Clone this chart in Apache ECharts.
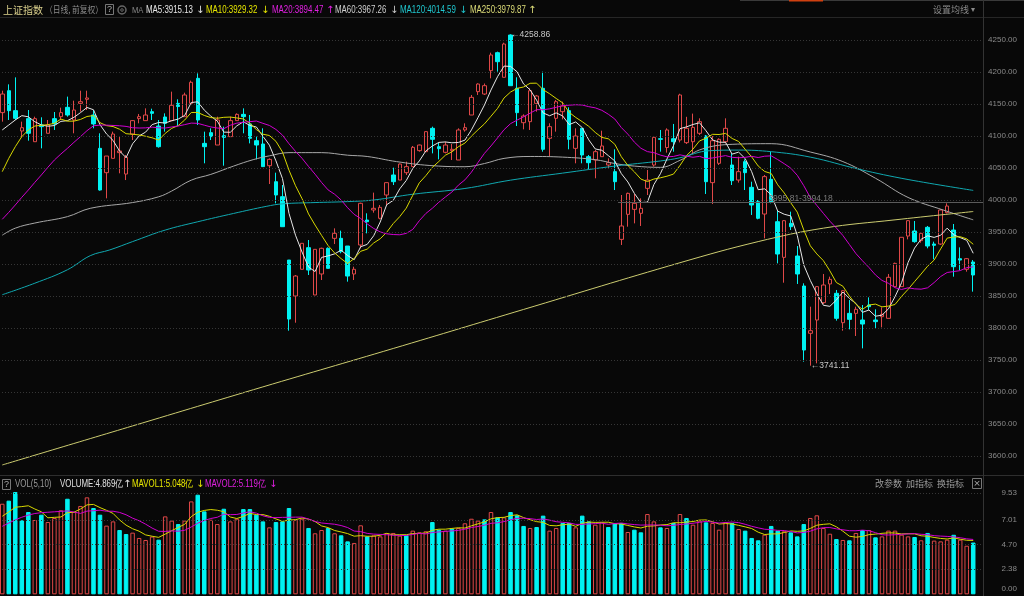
<!DOCTYPE html>
<html><head><meta charset="utf-8">
<script src="https://cdn.jsdelivr.net/npm/echarts@6/dist/echarts.min.js"></script>
<style>html,body{margin:0;padding:0;background:#080808;}#c{width:1024px;height:596px;}</style>
</head><body><div id="c"></div>
<script>
// ---------- data ----------
const opens = [4136.5,4170.8,4139.6,4107.8,4127.1,4091.1,4117.2,4104.2,4127.1,4130.2,
4144.8,4125.0,4151.0,4157.3,4132.8,4080.7,4042.7,4065.1,4074.0,4040.6,
4103.1,4127.1,4124.0,4138.0,4115.6,4129.7,4124.0,4151.0,4130.2,4151.0,
4190.1,4088.5,4105.2,4085.9,4100.5,4099.0,4124.0,4133.8,4118.8,4092.7,
4087.5,4053.6,4028.6,4005.2,3906.2,3850.0,3891.7,3925.5,3851.6,3884.4,
3924.5,3940.1,3940.1,3928.1,3884.4,3929.7,3968.7,3984.4,3971.4,4007.8,
4039.1,4031.2,4042.7,4052.1,4077.1,4075.5,4112.0,4083.3,4074.5,4077.1,
4062.5,4109.4,4132.8,4169.3,4165.6,4202.1,4230.2,4191.7,4257.8,4174.5,
4120.8,4122.4,4151.0,4174.5,4096.4,4127.6,4138.0,4139.6,4080.7,4112.0,
4067.7,4062.5,4067.7,4054.7,4044.3,3938.5,3977.6,3985.4,3979.2,4018.2,
4054.7,4095.8,4082.0,4095.8,4093.7,4089.6,4091.1,4104.2,4100.0,4027.1,
4057.3,4091.1,4054.7,4031.2,4059.9,4019.8,3997.4,3978.1,4032.3,3966.1,
3910.4,3963.5,3912.5,3865.6,3791.7,3812.5,3839.6,3868.8,3854.2,3808.3,
3822.9,3822.9,3812.5,3835.9,3812.5,3817.7,3815.1,3864.6,3864.6,3943.7,
3951.6,3936.5,3957.3,3931.2,3931.2,3980.2,3953.1,3908.3,3891.7,3903.1];
const closes = [4165.6,4139.6,4127.6,4113.0,4104.2,4127.1,4114.6,4117.2,4118.8,4136.5,
4132.8,4140.6,4153.6,4159.4,4118.8,4015.6,4068.7,4103.1,4076.6,4066.7,
4124.0,4130.2,4132.8,4135.4,4083.3,4119.8,4147.9,4146.0,4164.1,4183.9,
4125.0,4083.3,4099.0,4125.0,4097.9,4124.0,4133.8,4130.2,4096.4,4085.9,
4052.1,4063.5,4007.8,3958.3,3814.0,3881.2,3932.3,3890.6,3922.9,3924.5,
3893.2,3947.9,3919.3,3881.2,3891.7,3994.8,3966.1,3987.0,3988.5,4027.1,
4028.6,4056.2,4052.1,4082.3,4085.9,4106.8,4094.8,4080.2,4085.9,4079.2,
4109.4,4113.0,4160.4,4181.2,4178.6,4226.6,4216.1,4243.7,4178.6,4136.5,
4131.2,4170.8,4162.5,4079.2,4114.6,4153.6,4146.9,4094.8,4100.0,4070.3,
4058.3,4075.5,4084.4,4058.3,4028.6,3959.4,4010.4,3994.8,3987.0,4031.2,
4097.9,4094.8,4109.4,4091.1,4164.1,4112.0,4113.5,4122.4,4028.6,4092.7,
4094.8,4112.0,4030.2,4044.3,4042.7,3992.2,3971.4,4036.5,3997.4,3915.6,
3967.7,3958.3,3884.4,3765.6,3795.8,3864.6,3867.2,3876.0,3815.1,3858.3,
3813.5,3829.2,3806.2,3833.3,3809.9,3821.4,3879.2,3901.0,3941.7,3967.7,
3934.9,3947.9,3928.1,3929.2,3984.4,3990.6,3895.8,3906.2,3908.3,3882.8];
const lows = [4122.4,4125.0,4125.0,4097.9,4092.7,4091.1,4080.7,4104.2,4109.4,4125.0,
4130.2,4104.2,4138.0,4140.6,4112.0,4014.6,4002.6,4065.1,4041.7,4031.2,
4093.7,4119.8,4124.0,4125.0,4081.8,4106.8,4124.0,4115.6,4130.2,4151.0,
4117.2,4057.3,4093.7,4085.9,4053.6,4099.0,4124.0,4104.2,4088.5,4063.5,
4052.1,4025.0,3994.8,3958.3,3795.8,3808.3,3891.7,3882.8,3851.6,3875.0,
3893.0,3931.2,3916.7,3872.4,3875.0,3924.5,3947.9,3980.2,3969.8,3992.2,
4023.4,4031.2,4039.1,4052.1,4075.5,4075.5,4072.9,4063.5,4072.9,4062.5,
4062.5,4106.8,4132.8,4164.1,4164.1,4190.1,4200.5,4191.7,4178.6,4115.6,
4110.4,4109.4,4138.0,4075.5,4068.7,4106.8,4126.0,4079.2,4057.3,4057.3,
4047.9,4033.9,4067.7,4049.5,4015.6,3929.7,3958.3,3963.5,3959.4,4007.8,
4052.1,4075.5,4074.0,4075.5,4090.0,4087.5,4072.9,4101.6,4009.4,3993.7,
4054.7,4088.5,4023.4,4027.1,4015.6,3976.6,3969.8,3940.1,3994.8,3901.0,
3870.8,3953.1,3868.8,3747.4,3741.11,3744.8,3837.5,3853.1,3811.5,3795.8,
3797.9,3787.5,3768.2,3828.1,3799.5,3801.0,3815.1,3864.6,3864.6,3938.5,
3933.3,3933.3,3924.5,3907.3,3929.7,3979.2,3880.2,3890.6,3888.0,3856.8];
const highs = [4170.8,4180.7,4191.6,4122.4,4140.6,4130.2,4129.2,4125.0,4137.5,4144.3,
4161.5,4155.2,4170.8,4170.8,4140.6,4104.2,4068.7,4106.8,4099.0,4070.3,
4125.0,4134.4,4143.2,4142.7,4125.0,4135.4,4169.3,4157.3,4167.7,4186.5,
4197.9,4106.8,4112.0,4130.2,4114.6,4130.2,4135.4,4143.2,4132.8,4099.0,
4112.0,4065.1,4042.7,4023.4,3906.2,3882.8,3932.3,3937.5,3922.9,3925.5,
3926.0,3955.7,3952.1,3928.1,3895.8,3995.8,3979.2,4011.5,3992.2,4027.1,
4050.5,4057.0,4059.9,4084.4,4086.5,4106.8,4114.6,4089.6,4091.1,4087.5,
4112.0,4119.8,4164.1,4182.3,4182.0,4230.2,4231.8,4245.8,4258.86,4191.7,
4133.8,4174.5,4164.1,4200.5,4119.8,4156.2,4153.6,4144.8,4112.0,4112.0,
4070.3,4078.1,4108.3,4065.1,4079.2,4007.8,4011.5,4009.4,4002.6,4046.9,
4099.0,4109.4,4112.0,4118.8,4166.0,4130.0,4135.0,4127.6,4101.6,4100.0,
4096.4,4127.6,4072.9,4067.7,4063.5,4028.6,4000.0,4039.1,4075.5,3983.3,
3968.7,3981.8,3928.1,3869.8,3833.3,3865.6,3884.4,3880.2,3859.4,3859.4,
3843.7,3833.3,3835.9,3847.9,3829.2,3832.3,3884.4,3902.1,3941.7,3968.7,
3967.2,3948.5,3959.4,3934.9,3985.4,3994.8,3962.5,3926.0,3909.4,3906.2];
// volume (亿)
const volumes = [8.52,8.81,9.62,6.96,7.74,6.99,7.49,6.80,7.18,7.90,
8.99,7.74,8.31,9.12,8.12,7.49,6.46,6.86,6.05,5.67,
5.80,5.30,5.11,5.43,5.14,7.33,6.93,6.61,6.93,8.74,
9.37,7.80,7.02,6.61,8.05,6.86,7.11,8.02,8.02,7.49,
6.86,6.30,6.80,6.86,8.12,7.02,7.11,6.24,5.74,6.05,
6.24,5.74,5.55,4.98,4.83,6.49,5.45,5.55,5.45,5.74,
5.77,5.52,5.55,5.99,5.83,5.93,6.80,6.08,5.99,6.18,
6.24,6.68,7.11,6.93,7.05,7.74,7.24,7.24,7.74,7.43,
6.43,6.24,6.33,7.40,5.99,6.24,6.71,6.71,6.30,7.40,
6.86,6.55,6.77,6.33,6.71,6.71,5.86,6.08,5.83,7.55,
6.86,6.30,6.24,6.71,7.55,7.18,6.55,6.93,6.77,6.71,
6.08,6.80,6.71,6.14,5.99,5.30,5.08,5.61,6.43,5.99,
5.93,5.83,5.45,6.61,7.18,7.43,6.24,5.70,5.20,5.11,
5.08,5.77,6.05,6.05,5.36,5.45,5.99,5.99,5.61,5.45,
5.39,5.08,5.77,5.05,4.98,5.14,5.60,5.14,4.57,4.869];
// moving-average values before enough candles are on screen
const ma5Head  = [4109.4,4117.2,4125.0,4131.8];
const ma10Head = [4044.3,4065.1,4083.3,4099.0,4109.4,4115.6,4116.7,4117.7,4119.8];
const ma20Head = [3969.8,3980.7,3992.2,4004.2,4015.6,4027.6,4039.1,4051.1,4062.5,4071.9,
                  4080.7,4090.1,4099.0,4108.3,4116.0,4117.0,4117.0,4116.5,4116.0];
const mavol1Head = [7.34,7.75,8.19,8.25];
const mavol2Head = [6.40,6.70,7.00,7.25,7.45,7.60,7.68,7.72,7.76];
// long moving averages: [candle index, value]
const ma60Pts  = [[0,3945],[2,3956],[5,3964],[10,3974],[13.5,3987],[20,3996],[24,4005],[26,4014],[29,4031],[32,4040],
  [35.5,4053],[38.5,4063],[41,4069],[44,4074],[49,4074],[53,4070],[56,4068],[60.5,4060],[65.5,4054],[71,4052],
  [74,4057],[77,4065],[81,4068],[86,4067],[91,4063],[94,4057],[97,4053],[101,4051],[104,4062],[107.5,4080],
  [112,4087],[118,4088],[124,4075],[129,4060],[134,4034],[139,4004],[144.5,3984],[149,3969]];
const ma120Pts = [[0,3852],[5,3870],[10,3891],[13.5,3913],[16.5,3922],[20,3935],[25,3953],[30,3966],[35.5,3979],[40.5,3990],
  [43,3994],[48,3996],[53,3997.5],[57,4000],[63,4009],[71,4018],[78,4031],[86,4042],[94,4053],[101,4061],
  [104,4066],[108.5,4077],[113,4078],[118,4075.5],[124,4067],[131.5,4048],[139,4032],[149,4015]];
const ma250Pts = [[0,3586],[20,3647],[40,3708],[60,3768],[80,3829],[104,3902],[116,3935],[126,3956],[137,3969],[149,3982]];
const priceTicks = [3600,3650,3700,3750,3800,3850,3900,3950,4000,4050,4100,4150,4200,4250];
const volTicks = [0,2.38,4.70,7.01,9.53];
const highMark = {index: 78, value: 4258.86, text: '←4258.86'};
const lowMark  = {index: 124, value: 3741.11, text: '←3741.11'};
const gapLine  = {from: 94.5, value: 3995.8, text: '3995.81-3994.18'};
const maLegend = [
  {text:'MA5:3915.13', arrow:'↓', color:'#e6e6e6', x:146, ax:196},
  {text:'MA10:3929.32', arrow:'↓', color:'#e6e600', x:206, ax:261},
  {text:'MA20:3894.47', arrow:'↑', color:'#e020e0', x:272, ax:326},
  {text:'MA60:3967.26', arrow:'↓', color:'#cfcfcf', x:335, ax:390},
  {text:'MA120:4014.59', arrow:'↓', color:'#20c8d0', x:400, ax:459},
  {text:'MA250:3979.87', arrow:'↑', color:'#dcdc78', x:470, ax:528}
];
const volLegend = [
  {text:'VOLUME:4.869亿', arrow:'↑', color:'#e0e0e0', x:60, ax:123},
  {text:'MAVOL1:5.048亿', arrow:'↓', color:'#e6e600', x:132, ax:196},
  {text:'MAVOL2:5.119亿', arrow:'↓', color:'#e020e0', x:205, ax:269}
];

// ---------- derived ----------
const N = closes.length;
const SLOTS = N + 1;
const categories = Array.from({length: SLOTS}, (_, i) => String(i + 1));
const RED = '#e04848', CYAN = '#00f2f2', BG = '#080808';
function movingAvg(vals, n, head) {
  return vals.map((_, i) => {
    if (i < n - 1) return head[i];
    let s = 0; for (let k = i - n + 1; k <= i; k++) s += vals[k];
    return +(s / n).toFixed(3);
  });
}
const kData = closes.map((c, i) => [opens[i], c, lows[i], highs[i]]);
const volData = volumes.map((v, i) => {
  const up = i === 0 ? closes[0] >= opens[0] : closes[i] >= closes[i - 1];
  return {value: v, itemStyle: up ? {color: BG, borderColor: RED, borderWidth: 1}
                                  : {color: CYAN, borderColor: CYAN, borderWidth: 1}};
});
const NUMFONT = "'Liberation Sans',Arial,sans-serif";
const CJK = "'Noto Sans CJK SC',sans-serif";
const ARW = "'DejaVu Sans',sans-serif";

function txt(x, y, text, fill, size, family, align, sx) {
  return {type:'text', silent:true, x, y, scaleX: sx || 1,
          style:{x:0, y:0, text, fill, font: size + 'px ' + (family || NUMFONT), verticalAlign:'middle', align: align || 'left'}};
}
const graphics = [];
// frame lines
graphics.push({type:'rect', silent:true, shape:{x:740,y:0,width:284,height:1}, style:{fill:'#3a3a3a'}});
graphics.push({type:'rect', silent:true, shape:{x:789,y:0,width:34,height:1.5}, style:{fill:'#d04010'}});
graphics.push({type:'line', silent:true, shape:{x1:0,y1:17.5,x2:1024,y2:17.5}, style:{stroke:'#262626',lineWidth:1}});
graphics.push({type:'line', silent:true, shape:{x1:0,y1:475.5,x2:1024,y2:475.5}, style:{stroke:'#2e2e2e',lineWidth:1}});
graphics.push({type:'line', silent:true, shape:{x1:983.5,y1:0,x2:983.5,y2:596}, style:{stroke:'#333',lineWidth:1}});
// main header
graphics.push(txt(3, 10, '上证指数', '#ddd28e', 10, CJK));
graphics.push(txt(45, 10, '（日线, 前复权）', '#8c8c8c', 9, CJK, 'left', 0.86));
graphics.push({type:'rect', silent:true, shape:{x:105.5,y:4.5,width:8,height:10}, style:{fill:'none',stroke:'#777'}});
graphics.push(txt(109.5, 10, '?', '#aaa', 9, NUMFONT, 'center'));
graphics.push({type:'circle', silent:true, shape:{cx:122,cy:10,r:4}, style:{fill:'none',stroke:'#666',lineWidth:1.5}});
graphics.push({type:'circle', silent:true, shape:{cx:122,cy:10,r:1.3}, style:{fill:'none',stroke:'#666'}});
graphics.push(txt(132, 10, 'MA', '#888', 9.5, NUMFONT, 'left', 0.8));
maLegend.forEach(m => { graphics.push(txt(m.x, 10, m.text, m.color, 10, NUMFONT, 'left', 0.79)); graphics.push(txt(m.ax, 10, m.arrow, m.color, 10, ARW)); });
graphics.push(txt(933, 10, '设置均线', '#8a8a8a', 9, CJK));
graphics.push(txt(971, 10, '▾', '#8a8a8a', 8, ARW));
// volume header
graphics.push({type:'rect', silent:true, shape:{x:2.5,y:479.5,width:8,height:10}, style:{fill:'none',stroke:'#777'}});
graphics.push(txt(6.5, 485, '?', '#aaa', 9, NUMFONT, 'center'));
graphics.push(txt(15, 484, 'VOL(5,10)', '#999', 10, NUMFONT, 'left', 0.79));
volLegend.forEach(m => { graphics.push(txt(m.x, 484, m.text, m.color, 10, NUMFONT, 'left', 0.79)); graphics.push(txt(m.ax, 484, m.arrow, m.color, 10, ARW)); });
graphics.push(txt(875, 484, '改参数', '#9a9a9a', 9, CJK));
graphics.push(txt(906, 484, '加指标', '#9a9a9a', 9, CJK));
graphics.push(txt(937, 484, '换指标', '#9a9a9a', 9, CJK));
graphics.push({type:'rect', silent:true, shape:{x:972.5,y:478.5,width:9,height:10}, style:{fill:'none',stroke:'#777'}});
graphics.push(txt(977, 484, '×', '#aaa', 9, ARW, 'center'));

const gridLineStyle = {color:'#363636', type:[1,2], width:1};
const chart = echarts.init(document.getElementById('c'), null, {renderer:'canvas'});
chart.setOption({
  backgroundColor: BG,
  animation: false,
  grid: [
    {left:-1, width:984, top:8, height:480, outerBoundsMode:'none'},
    {left:-1, width:984, top:488, height:106.3, outerBoundsMode:'none'}
  ],
  xAxis: [
    {type:'category', gridIndex:0, data:categories, boundaryGap:true, show:false},
    {type:'value', gridIndex:0, min:-0.5, max:SLOTS-0.5, show:false},
    {type:'category', gridIndex:1, data:categories, boundaryGap:true, show:false}
  ],
  yAxis: [
    {type:'value', gridIndex:0, position:'right', min:3550, max:4300, interval:50, scale:true,
     axisLine:{show:false}, axisTick:{show:false}, splitLine:{show:false},
     axisLabel:{color:'#8a8a8a', fontSize:8, fontFamily:NUMFONT, align:'right', margin:34,
       formatter: v => (v <= 3550 || v >= 4300) ? '' : v.toFixed(2)}},
    {type:'value', gridIndex:1, position:'right', min:0, max:10,
     axisLine:{show:false}, axisTick:{show:false}, splitLine:{show:false},
     axisLabel:{color:'#8a8a8a', fontSize:8, fontFamily:NUMFONT, align:'right', margin:34,
       customValues: volTicks,
       formatter: v => v === 0 ? '{z|0.00}' : v.toFixed(2),
       rich:{z:{padding:[0,0,12,0], color:'#8a8a8a', fontSize:8, fontFamily:NUMFONT}}}}
  ],
  graphic: graphics,
  series: [
    {type:'candlestick', xAxisIndex:0, yAxisIndex:0, data:kData, barWidth:4, z:2,
     itemStyle:{color:BG, color0:CYAN, borderColor:RED, borderColor0:CYAN, borderWidth:1},
     markLine:{silent:true, symbol:['none','none'], label:{show:false}, lineStyle:gridLineStyle,
       data: priceTicks.map(v => ({yAxis:v}))},
     markPoint:{silent:true, symbol:'circle', symbolSize:1, itemStyle:{color:'rgba(0,0,0,0)'},
       label:{show:true, position:'right', distance:0, color:'#c8c8c8', fontSize:8.5, fontFamily:NUMFONT},
       data:[
         {coord:[highMark.index, highMark.value], label:{formatter: highMark.text}},
         {coord:[lowMark.index, lowMark.value], label:{formatter: lowMark.text}}
       ]}},
    {type:'line', name:'MA5', xAxisIndex:0, yAxisIndex:0, data:movingAvg(closes,5,ma5Head), symbol:'none', z:4,
     lineStyle:{color:'#e6e6e6', width:1}},
    {type:'line', name:'MA10', xAxisIndex:0, yAxisIndex:0, data:movingAvg(closes,10,ma10Head), symbol:'none', z:4,
     lineStyle:{color:'#d8d800', width:1}},
    {type:'line', name:'MA20', xAxisIndex:0, yAxisIndex:0, data:movingAvg(closes,20,ma20Head), symbol:'none', z:4,
     lineStyle:{color:'#d000d0', width:1}},
    {type:'line', name:'MA60', xAxisIndex:1, yAxisIndex:0, data:ma60Pts, symbol:'none', smooth:0.4, z:3,
     lineStyle:{color:'#a8a8a8', width:1},
     markLine:{silent:true, symbol:['none','none'], lineStyle:{color:'#5a5a5a', type:'solid', width:1},
       label:{show:true, position:'insideMiddleTop', distance:0, formatter: gapLine.text, color:'#7a7a7a', fontSize:8.5, fontFamily:NUMFONT},
       data:[[{coord:[gapLine.from, gapLine.value]},{coord:[SLOTS-0.5, gapLine.value]}]]}},
    {type:'line', name:'MA120', xAxisIndex:1, yAxisIndex:0, data:ma120Pts, symbol:'none', smooth:0.4, z:3,
     lineStyle:{color:'#10a8b0', width:1}},
    {type:'line', name:'MA250', xAxisIndex:1, yAxisIndex:0, data:ma250Pts, symbol:'none', smooth:0.4, z:3,
     lineStyle:{color:'#cccc70', width:1}},
    {type:'bar', xAxisIndex:2, yAxisIndex:1, data:volData, barWidth:4.5, z:2,
     markLine:{silent:true, symbol:['none','none'], label:{show:false}, lineStyle:gridLineStyle,
       data: volTicks.filter(v => v > 0).map(v => ({yAxis:v}))}},
    {type:'line', name:'MAVOL1', xAxisIndex:2, yAxisIndex:1, data:movingAvg(volumes,5,mavol1Head), symbol:'none', z:4,
     lineStyle:{color:'#d8d800', width:1}},
    {type:'line', name:'MAVOL2', xAxisIndex:2, yAxisIndex:1, data:movingAvg(volumes,10,mavol2Head), symbol:'none', z:4,
     lineStyle:{color:'#d000d0', width:1}}
  ]
});
</script></body></html>
